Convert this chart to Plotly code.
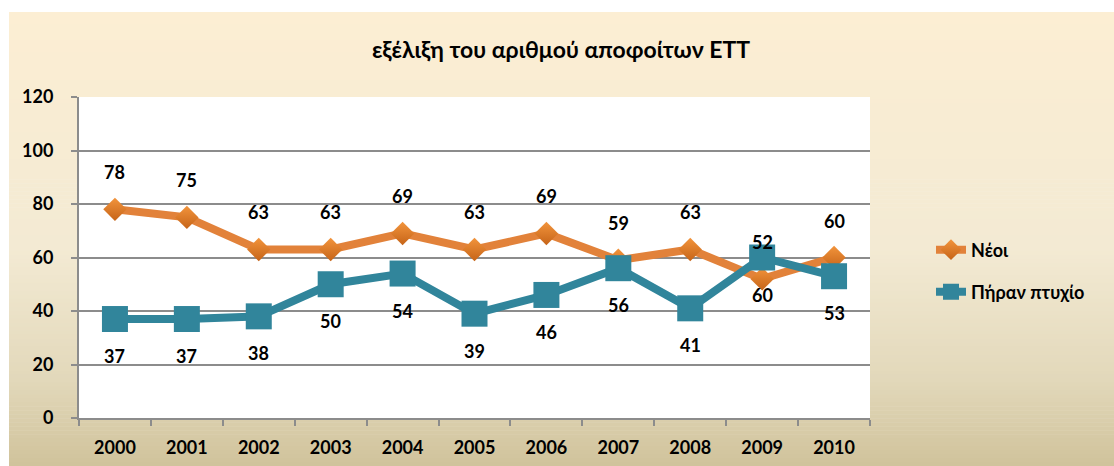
import plotly.graph_objects as go

# Graduate counts per year
years = ["2000", "2001", "2002", "2003", "2004", "2005", "2006", "2007", "2008", "2009", "2010"]
neoi = [78, 75, 63, 63, 69, 63, 69, 59, 63, 52, 60]
ptyxio = [37, 37, 38, 50, 54, 39, 46, 56, 41, 60, 53]
y_ticks = [0, 20, 40, 60, 80, 100, 120]

title_text = "εξέλιξη του αριθμού αποφοίτων ΕΤΤ"
name_neoi = "Νέοι"
name_ptyxio = "Πήραν πτυχίο"

W, H = 1114, 466
L, R, T, B = 79, 244, 97, 48
PW, PH = W - L - R, H - T - B

FONT = "Lato, 'Noto Sans', sans-serif"
ORANGE = "rgb(226,130,58)"
ORANGE_DARK = "rgb(198,100,24)"
ORANGE_LIGHT = "rgb(242,148,60)"
TEAL = "rgb(49,133,155)"
GRID = "rgb(140,140,140)"


def px_x(p):
    return (p - L) / PW


def px_y(p):
    return (H - B - p) / PH


# vertical background gradient (cream to tan), built as thin bands
stops = [(12, (252, 238, 211)), (250, (243, 234, 211)), (380, (226, 216, 186)), (466, (208, 194, 155))]


def color_at(py):
    for (p0, c0), (p1, c1) in zip(stops[:-1], stops[1:]):
        if p0 <= py <= p1:
            t = (py - p0) / (p1 - p0)
            return tuple(round(a + (b - a) * t) for a, b in zip(c0, c1))
    return stops[-1][1]


shapes = []
n_bands = 114
top, bottom = 12, 466
step = (bottom - top) / n_bands
for i in range(n_bands):
    y0 = top + i * step
    y1 = y0 + step + 0.6
    c = color_at(y0 + step / 2)
    shapes.append(dict(
        type="rect", xref="paper", yref="paper", layer="below",
        x0=px_x(9), x1=px_x(W + 2), y0=px_y(min(y1, bottom + 2)), y1=px_y(y0),
        fillcolor=f"rgb{c}", line=dict(width=0),
    ))
# white plot area on top of the gradient
shapes.append(dict(type="rect", xref="paper", yref="paper", layer="below",
                   x0=0, x1=1, y0=0, y1=1, fillcolor="white", line=dict(width=0)))

fig = go.Figure()
fig.add_trace(go.Scatter(
    x=years, y=neoi, name=name_neoi, mode="lines+markers",
    line=dict(color=ORANGE, width=8),
    marker=dict(symbol="diamond", size=18, color=ORANGE_LIGHT,
                gradient=dict(type="vertical", color=ORANGE_DARK), line=dict(width=0)),
    legend="legend",
))
fig.add_trace(go.Scatter(
    x=years, y=ptyxio, name=name_ptyxio, mode="lines+markers",
    line=dict(color=TEAL, width=8),
    marker=dict(symbol="square", size=26, color=TEAL, line=dict(width=0)),
    legend="legend2",
))

# value labels; x given as the category's serial index on the category axis
label_font = dict(family=FONT, size=18, color="black", weight="bold")
annotations = []
for i, v in enumerate(neoi):
    annotations.append(dict(x=i, y=v, text=str(v), showarrow=False, yshift=37, font=label_font))
for i, v in enumerate(ptyxio):
    annotations.append(dict(x=i, y=v, text=str(v), showarrow=False, yshift=-37, font=label_font))

legend_common = dict(
    x=px_x(931), xanchor="left", yanchor="middle",
    bgcolor="rgba(0,0,0,0)", borderwidth=0,
    font=dict(family=FONT, size=18, color="black", weight="bold"),
    itemsizing="trace",
)

fig.update_layout(
    width=W, height=H,
    margin=dict(l=L, r=R, t=T, b=B, autoexpand=False),
    paper_bgcolor="white",
    plot_bgcolor="white",
    shapes=shapes,
    annotations=annotations,
    title=dict(text=title_text, x=561 / W, xanchor="center", xref="container",
               y=1 - 50 / H, yanchor="middle", yref="container",
               font=dict(family=FONT, size=23, color="black", weight="bold")),
    legend=dict(y=px_y(250), **legend_common),
    legend2=dict(y=px_y(292), **legend_common),
    showlegend=True,
    xaxis=dict(
        type="category", categoryorder="array", categoryarray=years,
        range=[-0.5, len(years) - 0.5], autorange=False, automargin=False,
        showgrid=False, showline=True, linecolor=GRID, linewidth=2,
        ticks="outside", tickson="boundaries", ticklen=6, tickcolor=GRID, tickwidth=2,
        ticklabelstandoff=12, tickangle=0,
        tickfont=dict(family=FONT, size=18, color="black", weight="bold"),
        fixedrange=True,
    ),
    yaxis=dict(
        range=[0, 120], autorange=False, tickvals=y_ticks, automargin=False,
        showgrid=True, gridcolor=GRID, gridwidth=2, zeroline=False,
        showline=True, linecolor=GRID, linewidth=2,
        ticks="outside", ticklen=6, tickcolor=GRID, tickwidth=2,
        ticklabelstandoff=14,
        tickfont=dict(family=FONT, size=18, color="black", weight="bold"),
        fixedrange=True,
    ),
)

fig.write_html("out.html")
